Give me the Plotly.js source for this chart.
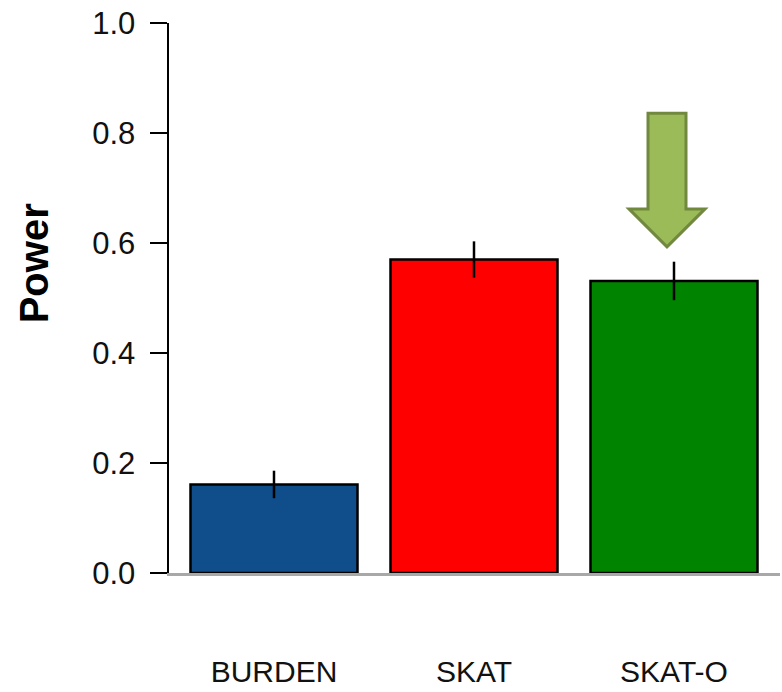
<!DOCTYPE html>
<html>
<head>
<meta charset="utf-8">
<script src="https://cdn.plot.ly/plotly-3.0.1.min.js"></script>
<style>
  html, body { margin: 0; padding: 0; background: #ffffff; }
  #chart { width: 782px; height: 692px; }
</style>
</head>
<body>
<div id="chart"></div>
<script>
// Power of each association test, with its error bar
const methods = ["BURDEN", "SKAT", "SKAT-O"];
const power = [0.161, 0.570, 0.531];
const powerErr = [0.025, 0.033, 0.035];
const barColors = ["#104E8B", "#FF0000", "#008400"];
const yTicks = [0, 0.2, 0.4, 0.6, 0.8, 1.0];
const yTickText = ["0.0", "0.2", "0.4", "0.6", "0.8", "1.0"];

// Highlight arrow above the SKAT-O bar (data units)
const arrowX = 1.965;     // centre of the arrow
const arrowTip = 0.593;   // point of the head
const arrowNeck = 0.662;  // where the head meets the shaft
const arrowTop = 0.836;   // top of the shaft
const shaftHalf = 0.095;
const headHalf = 0.19;

const xPos = methods.map((_, i) => i);

const arrowPath =
  "M " + (arrowX - shaftHalf) + "," + arrowTop +
  " L " + (arrowX + shaftHalf) + "," + arrowTop +
  " L " + (arrowX + shaftHalf) + "," + arrowNeck +
  " L " + (arrowX + headHalf) + "," + arrowNeck +
  " L " + arrowX + "," + arrowTip +
  " L " + (arrowX - headHalf) + "," + arrowNeck +
  " L " + (arrowX - shaftHalf) + "," + arrowNeck + " Z";

const trace = {
  type: "bar",
  x: xPos,
  y: power,
  width: 0.835,
  marker: { color: barColors, line: { color: "#000000", width: 2.5 } },
  error_y: {
    type: "data",
    array: powerErr,
    visible: true,
    color: "#000000",
    thickness: 2.5,
    width: 0
  },
  hoverinfo: "x+y"
};

const layout = {
  width: 782,
  height: 692,
  margin: { l: 169, r: 2, t: 23, b: 119 },
  paper_bgcolor: "#ffffff",
  plot_bgcolor: "#ffffff",
  showlegend: false,
  font: { family: "Liberation Sans, Arial, sans-serif", color: "#000000" },
  xaxis: {
    range: [-0.525, 2.53],
    tickvals: xPos,
    ticktext: methods,
    ticks: "",
    showgrid: false,
    zeroline: false,
    showline: true,
    linecolor: "#A8A8A8",
    linewidth: 3,
    tickfont: { size: 30, color: "#111111" },
    ticklabelstandoff: 70,
    fixedrange: true
  },
  yaxis: {
    range: [0, 1],
    tickvals: yTicks,
    ticktext: yTickText,
    ticks: "outside",
    ticklen: 17,
    tickwidth: 2.5,
    tickcolor: "#000000",
    showline: true,
    linecolor: "#000000",
    linewidth: 2.5,
    showgrid: false,
    zeroline: false,
    tickfont: { size: 31, color: "#111111" },
    ticklabelstandoff: 8,
    fixedrange: true
  },
  shapes: [
    {
      type: "path",
      xref: "x",
      yref: "y",
      path: arrowPath,
      fillcolor: "#9BBB59",
      line: { color: "#71893F", width: 3 }
    }
  ],
  annotations: [
    {
      text: "<b>Power</b>",
      xref: "paper",
      yref: "paper",
      x: -0.221,
      y: 0.563,
      xanchor: "center",
      yanchor: "middle",
      textangle: -90,
      showarrow: false,
      font: { size: 40, family: "Liberation Sans, Arial, sans-serif", color: "#000000" }
    }
  ]
};

Plotly.newPlot("chart", [trace], layout, { displayModeBar: false, staticPlot: true });
</script>
</body>
</html>
